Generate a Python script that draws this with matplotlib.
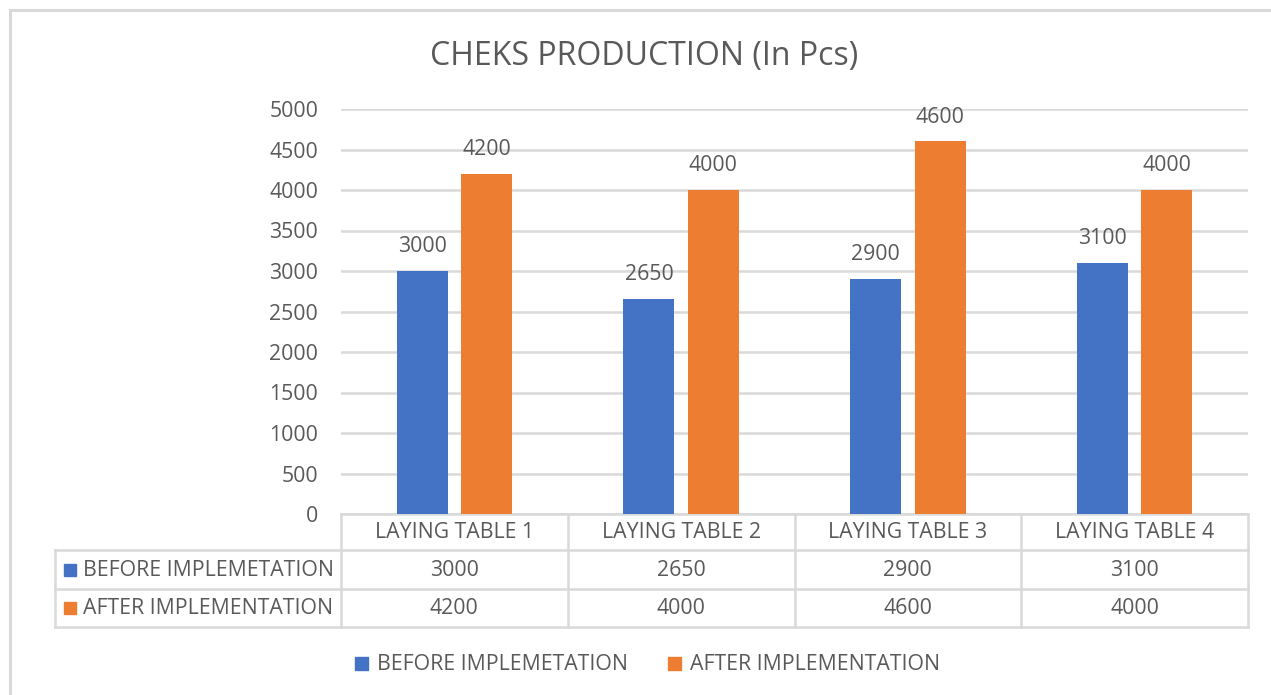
import matplotlib
matplotlib.use("Agg")
import matplotlib.pyplot as plt
import numpy as np
from matplotlib.lines import Line2D
from matplotlib.patches import Rectangle

categories = ["LAYING TABLE 1", "LAYING TABLE 2", "LAYING TABLE 3", "LAYING TABLE 4"]
series_names = ["BEFORE IMPLEMETATION", "AFTER IMPLEMENTATION"]
before = [3000, 2650, 2900, 3100]
after = [4200, 4000, 4600, 4000]
yticks = list(range(0, 5001, 500))
title = "CHEKS PRODUCTION (In Pcs)"

BLUE = "#4472C4"
ORANGE = "#ED7D31"
GRID = "#D9D9D9"
TXT = "#595959"
FONT = "Open Sans"
plt.rcParams["font.family"] = [FONT, "DejaVu Sans"]

W, H = 1271, 695
fig = plt.figure(figsize=(W / 100, H / 100), dpi=100)
fig.patch.set_facecolor("white")

# overlay axes in pixel coords
ov = fig.add_axes([0, 0, 1, 1], zorder=0)
ov.set_xlim(0, W)
ov.set_ylim(H, 0)
ov.axis("off")

def px(x0, y0, x1, y1):
    return [x0 / W, 1 - y1 / H, (x1 - x0) / W, (y1 - y0) / H]

fs = 15.3
ax = fig.add_axes(px(341, 109, 1248, 514), zorder=1)
ax.patch.set_alpha(0)
x = np.arange(len(categories))
bw = 0.225
off = 0.142
ax.bar(x - off, before, bw, color=BLUE, zorder=3)
ax.bar(x + off, after, bw, color=ORANGE, zorder=3)
ax.set_xlim(-0.5, len(categories) - 0.5)
ax.set_ylim(0, 5000)
ax.set_yticks(yticks)
ax.set_yticklabels([str(v) for v in yticks], color=TXT, fontsize=fs)
ax.tick_params(axis="y", length=0, pad=16.5)
ax.tick_params(axis="x", length=0, labelbottom=False)
ax.grid(axis="y", color=GRID, linewidth=1.8, zorder=0)
for s in ax.spines.values():
    s.set_visible(False)
for xi, v in zip(x - off, before):
    ax.annotate(str(v), (xi, v), xytext=(0, 10), textcoords="offset points",
                ha="center", va="bottom", color=TXT, fontsize=fs)
for xi, v in zip(x + off, after):
    ax.annotate(str(v), (xi, v), xytext=(0, 10), textcoords="offset points",
                ha="center", va="bottom", color=TXT, fontsize=fs)

ov.text(644, 57, title, ha="center", va="center", color=TXT, fontsize=23)

# table
fig.canvas.draw()
def to_px(xd):
    disp = ax.transData.transform((xd, 0))
    return disp[0]
edges = [to_px(e) for e in np.arange(-0.5, len(categories), 1.0)]
centers = [to_px(c) for c in x]
row_y = [514, 550, 589, 627]
lab_left = 55
lw = 1.8
ov.add_line(Line2D([edges[0], edges[-1]], [row_y[0], row_y[0]], color=GRID, lw=lw))
for r in row_y[1:]:
    ov.add_line(Line2D([lab_left, edges[-1]], [r, r], color=GRID, lw=lw))
for e in edges:
    ov.add_line(Line2D([e, e], [row_y[0], row_y[-1]], color=GRID, lw=lw))
ov.add_line(Line2D([lab_left, lab_left], [row_y[1], row_y[-1]], color=GRID, lw=lw))

for c, name in zip(centers, categories):
    ov.text(c, (row_y[0] + row_y[1]) / 2 + 1, name, ha="center", va="center", color=TXT, fontsize=fs)
for ri, (vals, col, name) in enumerate([(before, BLUE, series_names[0]), (after, ORANGE, series_names[1])]):
    yc = (row_y[ri + 1] + row_y[ri + 2]) / 2
    ov.add_patch(Rectangle((64, yc - 6), 12, 12, color=col))
    ov.text(83, yc + 1, name, ha="left", va="center", color=TXT, fontsize=fs)
    for c, v in zip(centers, vals):
        ov.text(c, yc + 1, str(v), ha="center", va="center", color=TXT, fontsize=fs)

# legend
leg_y = 663
ov.add_patch(Rectangle((355, leg_y - 6), 13, 13, color=BLUE))
ov.text(377, leg_y + 1, series_names[0], ha="left", va="center", color=TXT, fontsize=fs)
ov.add_patch(Rectangle((668, leg_y - 6), 13, 13, color=ORANGE))
ov.text(690, leg_y + 1, series_names[1], ha="left", va="center", color=TXT, fontsize=fs)

# chart frame
ov.add_line(Line2D([10, 10], [10, H], color=GRID, lw=2.2))
ov.add_line(Line2D([10, W], [10, 10], color=GRID, lw=2.2))

fig.savefig("out.png", dpi=100, facecolor="white")
